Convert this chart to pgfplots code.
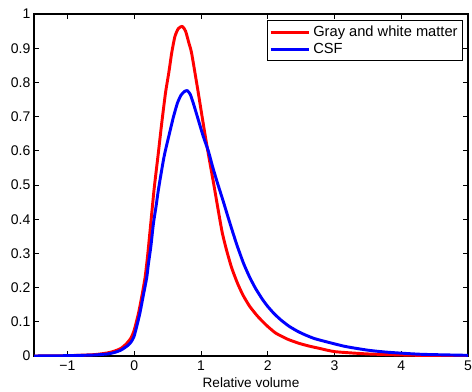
\documentclass[border=0pt]{standalone}
\usepackage{fontspec}
\setmainfont{Liberation Sans}
\usepackage{pgfplots}
\pgfplotsset{compat=1.18}
\begin{document}
\fontsize{10.5}{12}\selectfont
\begin{tikzpicture}
\begin{axis}[
  scale only axis,
  width=325.5pt, height=256.5pt,
  xmin=-1.5, xmax=5, ymin=0, ymax=1,
  xtick={-1,0,1,2,3,4,5},
  xticklabels={−1,0,1,2,3,4,5},
  ytick={0,0.1,0.2,0.3,0.4,0.5,0.6,0.7,0.8,0.9,1},
  yticklabels={0,0.1,0.2,0.3,0.4,0.5,0.6,0.7,0.8,0.9,1},
  tick align=inside,
  major tick length=4pt,
  tick style={black, line width=0.5pt},
  axis line style={black, line width=0.8pt},
  xlabel={Relative volume},
  xlabel style={at={(axis description cs:0.5,0)}, anchor=center, yshift=-20pt},
  ticklabel style={font=\fontsize{10.5}{12}\selectfont},
  label style={font=\fontsize{10.2}{12}\selectfont},
  xticklabel style={yshift=0pt},
  yticklabel style={xshift=1pt},
  legend style={at={(0.988,0.981)}, anchor=north east, draw=black, line width=0.6pt,
    fill=white, font=\fontsize{11}{11.7}\selectfont, inner sep=1.6pt, row sep=0pt,
    cells={anchor=west}},
  legend image code/.code={\draw[#1] (0pt,0pt) -- (29pt,0pt);},
]
\coordinate (bl) at (rel axis cs:0,0);
\coordinate (tr) at (rel axis cs:1,1);
\addplot[red, line width=2.2pt, line join=round, smooth, tension=0.35] coordinates {
(-1.5,0) (-1.0,0.001) (-0.6,0.004) (-0.4,0.009) (-0.3,0.014) (-0.2,0.022)
(-0.12,0.035) (-0.05,0.052) (0,0.075) (0.065,0.125) (0.12,0.18) (0.164,0.23)
(0.20,0.29) (0.24,0.37) (0.30,0.49) (0.36,0.59) (0.413,0.681) (0.47,0.77)
(0.52,0.83) (0.562,0.886) (0.61,0.934) (0.66,0.957) (0.72,0.964) (0.77,0.95)
(0.82,0.915) (0.86,0.886) (0.945,0.788) (1.025,0.691) (1.10,0.603) (1.194,0.50)
(1.269,0.415) (1.32,0.36) (1.383,0.31) (1.46,0.258) (1.547,0.213) (1.63,0.178)
(1.731,0.145) (1.85,0.116) (1.98,0.09) (2.12,0.067) (2.30,0.049)
(2.47,0.037) (2.62,0.029) (2.77,0.0225) (3.01,0.0126) (3.5,0.006) (4.0,0.003)
(4.5,0.001) (5.0,0.0)
};
\addlegendentry{Gray and white matter}
\addplot[blue, line width=2.2pt, line join=round, smooth, tension=0.35] coordinates {
(-1.5,0) (-1.0,0.001) (-0.6,0.003) (-0.4,0.006) (-0.3,0.010) (-0.2,0.017)
(-0.1,0.030) (-0.05,0.04) (0,0.058) (0.08,0.12) (0.14,0.18) (0.189,0.23)
(0.214,0.27) (0.25,0.32) (0.289,0.388) (0.33,0.44) (0.363,0.486) (0.448,0.583)
(0.54,0.66) (0.587,0.698) (0.647,0.739) (0.70,0.762) (0.75,0.773) (0.796,0.776)
(0.84,0.765) (0.886,0.739) (0.96,0.691) (1.035,0.642) (1.11,0.60) (1.18,0.55)
(1.249,0.505) (1.33,0.455) (1.408,0.405) (1.48,0.36) (1.547,0.32) (1.64,0.27)
(1.731,0.23) (1.82,0.197) (1.92,0.166) (2.0,0.145) (2.1,0.123) (2.2,0.105)
(2.32,0.087) (2.45,0.072) (2.57,0.061) (2.7,0.051) (2.87,0.042) (3.16,0.028)
(3.5,0.017) (3.8,0.011) (4.3,0.005) (5.0,0.002)
};
\addlegendentry{CSF}
\end{axis}
\pgfresetboundingbox
\path[use as bounding box] ([shift={(-25.5pt,-26.25pt)}]bl) rectangle ([shift={(3pt,10.5pt)}]tr);
\end{tikzpicture}
\end{document}
